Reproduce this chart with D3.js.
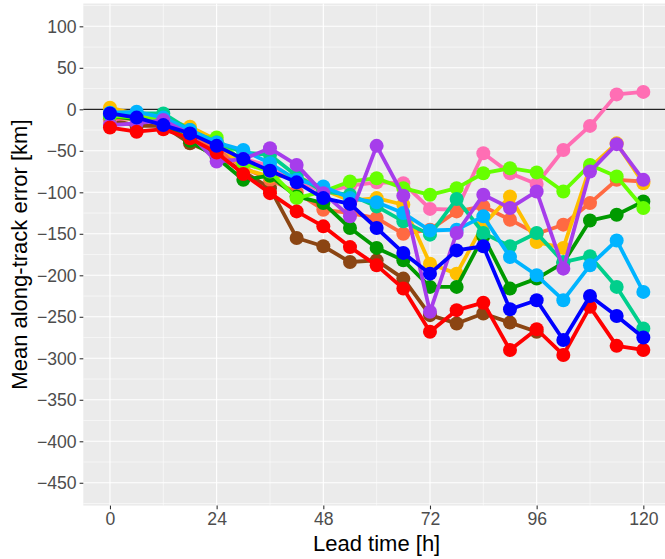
<!DOCTYPE html>
<html><head><meta charset="utf-8">
<script src="https://cdn.jsdelivr.net/npm/d3@7"></script>
<style>body{margin:0;background:#fff}svg{display:block}text{font-family:"Liberation Sans",Arial,sans-serif}</style>
</head><body>
<script>
const hours = [0,6,12,18,24,30,36,42,48,54,60,66,72,78,84,90,96,102,108,114,120];
const xTicks = [0,24,48,72,96,120];
const yTicks = [-450,-400,-350,-300,-250,-200,-150,-100,-50,0,50,100];

const pink      = [-12,-10,-14,-30,-45,-60,-68,-85,-100,-92,-88,-89,-120,-121,-53,-77,-90,-49,-20,18,21];
const gold      = [2,-6,-12,-21,-37,-72,-81,-80,-97,-110,-107,-115,-186,-198,-139,-105,-160,-167,-70,-41,-89];
const tomato    = [-10,-12,-18,-30,-48,-70,-85,-100,-121,-125,-131,-150,-145,-123,-117,-133,-150,-139,-113,-85,-87];
const lawngreen = [-8,-10,-12,-33,-34,-65,-75,-107,-99,-87,-83,-95,-103,-95,-77,-71,-76,-99,-67,-81,-119];
const darkgreen = [-8,-12,-15,-38,-58,-85,-80,-105,-113,-143,-167,-182,-214,-214,-153,-216,-204,-185,-134,-127,-111];
const turquoise = [-6,-5,-5,-25,-40,-52,-55,-80,-99,-103,-117,-135,-151,-108,-149,-165,-149,-184,-177,-214,-264];
const skyblue   = [-4,-3,-10,-25,-40,-49,-65,-85,-93,-107,-112,-125,-146,-145,-129,-178,-200,-230,-188,-158,-220];
const purple    = [-19,-17,-13,-30,-63,-60,-47,-67,-101,-129,-44,-104,-244,-149,-103,-119,-99,-192,-75,-42,-85];
const brown     = [-12,-20,-20,-41,-55,-75,-95,-155,-165,-184,-182,-204,-248,-258,-246,-257,-268];
const red       = [-22,-27,-24,-35,-52,-78,-101,-123,-141,-166,-188,-216,-268,-242,-233,-290,-265,-296,-238,-285,-290];
const blue      = [-5,-10,-19,-29,-44,-60,-74,-88,-107,-114,-143,-173,-198,-170,-165,-241,-230,-278,-225,-249,-275];

const seriesList = [
  {v: brown, c: "#8B4513"},
  {v: pink, c: "#FF6EB4"},
  {v: tomato, c: "#FF6A42"},
  {v: gold, c: "#FFBF00"},
  {v: darkgreen, c: "#009A00"},
  {v: lawngreen, c: "#66FF00"},
  {v: turquoise, c: "#00CF8C"},
  {v: skyblue, c: "#00B4FF"},
  {v: purple, c: "#A63DEB"},
  {v: red, c: "#FF0000"},
  {v: blue, c: "#0000FF"}
];

const W = 665, H = 559;
const L = 83.3, R = 670, T = 3.5, B = 505.6;
const svg = d3.select("body").append("svg").attr("width", W).attr("height", H);

const x = d3.scaleLinear().domain([-6, 126]).range([L, R]);
const y = d3.scaleLinear().domain([-477.5, 127.5]).range([B, T]);

svg.append("rect").attr("x", L).attr("y", T).attr("width", R - L).attr("height", B - T).attr("fill", "#EBEBEB");

const g = svg.append("g");
// minor grid
const yMinor = d3.range(-475, 130, 50);
const xMinor = [12, 36, 60, 84, 108];
g.selectAll(".ymin").data(yMinor).enter().append("line")
  .attr("x1", L).attr("x2", R).attr("y1", d => y(d)).attr("y2", d => y(d))
  .attr("stroke", "#fff").attr("stroke-width", 0.55);
g.selectAll(".xmin").data(xMinor).enter().append("line")
  .attr("y1", T).attr("y2", B).attr("x1", d => x(d)).attr("x2", d => x(d))
  .attr("stroke", "#fff").attr("stroke-width", 0.55);
// major grid
g.selectAll(".ymaj").data(yTicks).enter().append("line")
  .attr("x1", L).attr("x2", R).attr("y1", d => y(d)).attr("y2", d => y(d))
  .attr("stroke", "#fff").attr("stroke-width", 1.1);
g.selectAll(".xmaj").data(xTicks).enter().append("line")
  .attr("y1", T).attr("y2", B).attr("x1", d => x(d)).attr("x2", d => x(d))
  .attr("stroke", "#fff").attr("stroke-width", 1.1);

// zero line
svg.append("line").attr("x1", L).attr("x2", R).attr("y1", y(0)).attr("y2", y(0))
  .attr("stroke", "#222").attr("stroke-width", 1.2);

// axes
const yAxis = d3.axisLeft(y).tickValues(yTicks).tickSize(3.7).tickPadding(3).tickFormat(d3.format("d"));
const ya = svg.append("g").attr("transform", `translate(${L},0)`).call(yAxis);
const xAxis = d3.axisBottom(x).tickValues(xTicks).tickSize(3.7).tickPadding(3).tickFormat(d3.format("d"));
const xa = svg.append("g").attr("transform", `translate(0,${B})`).call(xAxis);
[ya, xa].forEach(a => {
  a.select(".domain").remove();
  a.selectAll(".tick line").attr("stroke", "#333").attr("stroke-width", 1.1);
  a.selectAll(".tick text").attr("fill", "#4D4D4D").style("font-size", "17.6px")
   .style("font-family", '"Liberation Sans", Arial, sans-serif');
});
ya.selectAll(".tick text").attr("dy", "0.35em");

// lines & points
const line = d3.line().x((d, i) => x(hours[i])).y(d => y(d));
const marks = svg.append("g");
seriesList.forEach(s => {
  const sg = marks.append("g");
  sg.append("path").datum(s.v).attr("d", line).attr("fill", "none")
    .attr("stroke", s.c).attr("stroke-width", 3.8).attr("stroke-linejoin", "round");
  sg.selectAll("circle").data(s.v).enter().append("circle")
    .attr("cx", (d, i) => x(hours[i])).attr("cy", d => y(d)).attr("r", 7).attr("fill", s.c);
});

// titles
svg.append("text").attr("x", (L + R) / 2).attr("y", 551).attr("text-anchor", "middle")
  .style("font-size", "22px").attr("fill", "#000").text("Lead time [h]");
svg.append("text").attr("transform", `translate(27,${(T + B) / 2}) rotate(-90)`).attr("text-anchor", "middle")
  .style("font-size", "22px").attr("fill", "#000").text("Mean along-track error [km]");
</script>
</body></html>
